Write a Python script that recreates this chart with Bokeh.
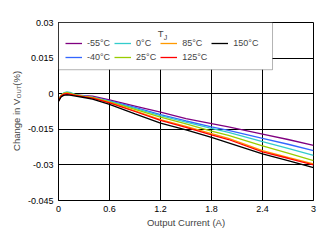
import math
from bokeh.plotting import figure
from bokeh.models import (Range1d, FixedTicker, Legend, LegendItem, Label,
                          BoxAnnotation)
from bokeh.embed import file_html
from bokeh.resources import INLINE

# ---- data ----
current = [0, 0.03, 0.06, 0.1, 0.15, 0.2, 0.3, 0.4, 0.6, 0.9, 1.2, 1.5, 1.8, 2.0, 2.4, 2.7, 3.0]
t_m55 = [-0.0025, -0.0008, -0.0003, -0.0002, -0.0003, -0.0005, -0.0008, -0.0010, -0.0026, -0.0052, -0.0078, -0.0105, -0.0126, -0.0140, -0.0170, -0.0193, -0.0218]
t_m40 = [-0.0030, -0.0010, -0.0002, 0.0002, -0.0002, -0.0006, -0.0010, -0.0014, -0.0030, -0.0058, -0.0088, -0.0115, -0.0140, -0.0155, -0.0188, -0.0213, -0.0240]
t_0 = [-0.0028, -0.0006, 0.0003, 0.0008, 0.0004, -0.0004, -0.0010, -0.0015, -0.0032, -0.0062, -0.0092, -0.0120, -0.0146, -0.0163, -0.0202, -0.0230, -0.0260]
t_25 = [-0.0030, -0.0008, 0.0001, 0.0004, 0.0000, -0.0005, -0.0011, -0.0016, -0.0034, -0.0066, -0.0099, -0.0127, -0.0158, -0.0176, -0.0220, -0.0250, -0.0282]
t_85 = [-0.0030, -0.0009, 0.0000, 0.0002, -0.0002, -0.0006, -0.0012, -0.0018, -0.0037, -0.0072, -0.0109, -0.0138, -0.0168, -0.0188, -0.0240, -0.0268, -0.0296]
t_125 = [-0.0030, -0.0010, -0.0002, 0.0000, -0.0003, -0.0007, -0.0013, -0.0019, -0.0039, -0.0075, -0.0112, -0.0142, -0.0173, -0.0193, -0.0245, -0.0272, -0.0300]
t_150 = [-0.0032, -0.0014, -0.0007, -0.0005, -0.0007, -0.0010, -0.0016, -0.0023, -0.0045, -0.0085, -0.0124, -0.0152, -0.0184, -0.0207, -0.0254, -0.0282, -0.0311]

series_labels = ["-55°C", "-40°C", "0°C", "25°C", "85°C", "125°C", "150°C"]
series_values = [t_m55, t_m40, t_0, t_25, t_85, t_125, t_150]
series_colors = ["#800080", "#3366FF", "#33CCCC", "#99CC00", "#FF9900", "#FF0000", "#000000"]

x_ticks = [0, 0.6, 1.2, 1.8, 2.4, 3]
x_tick_labels = ["0", "0.6", "1.2", "1.8", "2.4", "3"]
y_ticks = [-0.045, -0.03, -0.015, 0, 0.015, 0.03]
y_tick_labels = ["-0.045", "-0.03", "-0.015", "0", "0.015", "0.03"]

FONT = "Liberation Sans"

p = figure(width=329, height=243, output_backend="svg", toolbar_location=None,
           x_range=Range1d(0, 3), y_range=Range1d(-0.045, 0.03),
           min_border_left=58, min_border_right=16, min_border_top=22,
           min_border_bottom=41)
p.background_fill_color = "white"
p.border_fill_color = "white"
p.outline_line_color = "black"
p.outline_line_width = 1

for ax in (p.xaxis[0], p.yaxis[0]):
    ax.axis_line_color = "black"
    ax.major_tick_in = 0
    ax.major_tick_out = 0
    ax.minor_tick_in = 0
    ax.minor_tick_out = 0
    ax.major_label_text_font = FONT
    ax.major_label_text_font_size = "9px"
    ax.major_label_text_color = "black"
    ax.major_label_standoff = 5

p.xaxis.ticker = FixedTicker(ticks=x_ticks)
p.xaxis.major_label_overrides = {t: l for t, l in zip(x_ticks, x_tick_labels)}
p.yaxis.ticker = FixedTicker(ticks=y_ticks)
p.yaxis.major_label_overrides = {t: l for t, l in zip(y_ticks, y_tick_labels)}

p.xaxis.axis_label = "Output Current (A)"
p.xaxis.axis_label_text_font = FONT
p.xaxis.axis_label_text_font_size = "9.5px"
p.xaxis.axis_label_text_font_style = "normal"
p.xaxis.axis_label_standoff = 2

p.xgrid.grid_line_color = "black"
p.ygrid.grid_line_color = "black"
p.xgrid.grid_line_width = 1
p.ygrid.grid_line_width = 1

renderers = []
for lab, vals, col in zip(series_labels, series_values, series_colors):
    r = p.line(current, vals, line_color=col, line_width=1.3)
    renderers.append((lab, r))

# legend box
box = BoxAnnotation(left=0, right=2.518, bottom=0.0101, top=0.03,
                    fill_color="white", fill_alpha=1.0,
                    line_color="black", line_width=1)
p.add_layout(box)

legend = Legend(items=[LegendItem(label=l, renderers=[r]) for l, r in renderers],
                location=(3, 134), orientation="vertical", nrows=2,
                label_text_font=FONT, label_text_font_size="9px",
                glyph_width=17, glyph_height=10, label_height=10,
                label_standoff=5, spacing=4, padding=4, margin=0,
                border_line_alpha=0, background_fill_alpha=0)
p.add_layout(legend)

# legend title T_J
p.add_layout(Label(x=1.237, y=0.0255, text="T", text_font=FONT, text_font_size="9.5px",
                   text_align="right", text_baseline="middle"))
p.add_layout(Label(x=1.238, y=0.0238, text="J", text_font=FONT, text_font_size="7px",
                   text_align="left", text_baseline="middle"))

# y axis label: Change in V_OUT (%)  (split over side panels so that the
# frame keeps its place; positions are in data units)
ylab_x = -0.494
p.add_layout(Label(x=ylab_x, y=-0.00208, text="Change in V", text_font=FONT,
                   text_font_size="9.5px", text_align="right", text_baseline="middle",
                   angle=math.pi / 2), "left")
p.add_layout(Label(x=ylab_x + 0.025, y=-0.0019, text="OUT", text_font=FONT,
                   text_font_size="6px", text_align="left", text_baseline="middle",
                   angle=math.pi / 2), "below")
p.add_layout(Label(x=ylab_x, y=0.0034, text="(%)", text_font=FONT,
                   text_font_size="9.5px", text_align="left", text_baseline="middle",
                   angle=math.pi / 2), "above")

open("out.html", "w").write(file_html(p, INLINE))
